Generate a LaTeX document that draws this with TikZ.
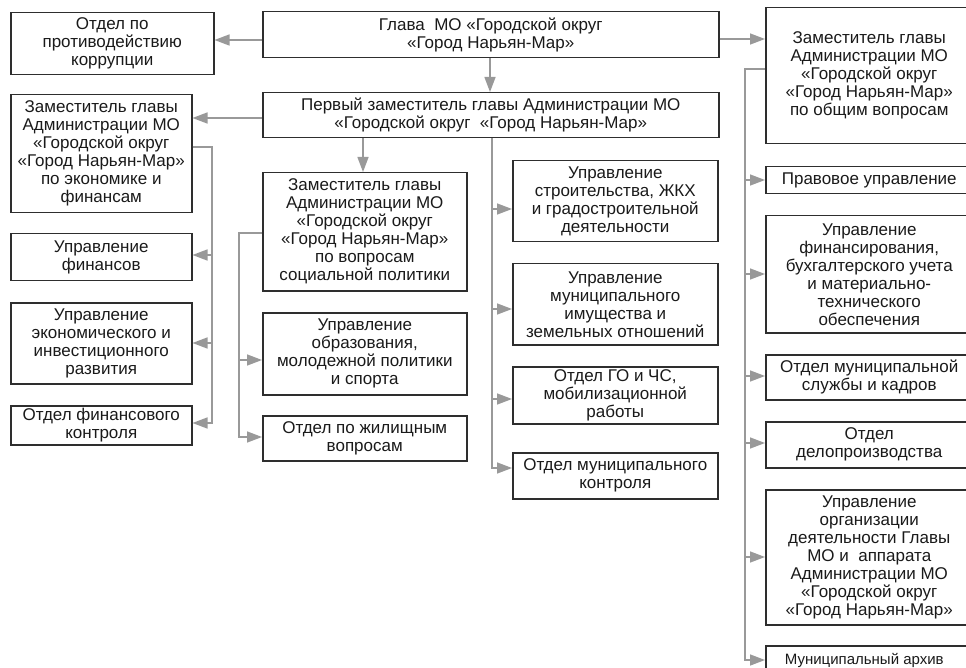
\documentclass[tikz,border=0pt]{standalone}
\usepackage{fontspec}
\setmainfont{Liberation Sans}
\usetikzlibrary{arrows.meta}
\definecolor{lncol}{HTML}{999999}
\definecolor{bdcol}{HTML}{2E2E2E}
\definecolor{txcol}{HTML}{1A1A1A}
\newcommand\orgbox[6]{\node[box, minimum width={(#4-#2)*1pt}, minimum height={(#5-#3)*1pt}] (#1) at (#2,#3) {#6};}
\begin{document}
\begin{tikzpicture}[x=1pt,y=-1pt,
  box/.style={draw=bdcol, line width=1.5pt, inner sep=0pt, align=center, anchor=north west, text=txcol, font=\fontsize{17}{18}\selectfont},
  conn/.style={draw=lncol, line width=1.4pt},
  arr/.style={conn, -{Triangle[length=15pt,width=11pt]}}]
\useasboundingbox (0,0) rectangle (966,668);
\clip (0,0) rectangle (966,668);
\fill[white] (0,0) rectangle (966,668);
% top
\orgbox{korr}{10}{12}{213}{74}{Отдел по\\противодействию\\коррупции}
\orgbox{glava}{262}{11}{718}{57}{Глава\ \ МО «Городской округ\\«Город Нарьян-Мар»}
\orgbox{obsh}{765}{7}{972}{143}{Заместитель главы\\Администрации МО\\«Городской округ\\«Город Нарьян-Мар»\\по общим вопросам}
\orgbox{perv}{262}{92}{718}{137}{Первый заместитель главы Администрации МО\\«Городской округ\ \ «Город Нарьян-Мар»}
% left column
\orgbox{econ}{10}{94}{191}{212}{Заместитель главы\\Администрации МО\\«Городской округ\\«Город Нарьян-Мар»\\по экономике и\\финансам}
\orgbox{fin}{10}{233}{191}{280}{Управление\\финансов}
\orgbox{ekon}{10}{302}{191}{383}{Управление\\экономического и\\инвестиционного\\развития}
\orgbox{fkont}{10}{405}{191}{444}{Отдел финансового\\контроля}
% social column
\orgbox{soc}{262}{172}{466}{290}{Заместитель главы\\Администрации МО\\«Городской округ\\«Город Нарьян-Мар»\\по вопросам\\социальной политики}
\orgbox{obr}{262}{312}{466}{394}{Управление\\образования,\\молодежной политики\\и спорта}
\orgbox{zhil}{262}{415}{466}{460}{Отдел по жилищным\\вопросам}
% middle column
\orgbox{stroi}{512}{160}{717}{241}{Управление\\строительства, ЖКХ\\и градостроительной\\деятельности}
\orgbox{imush}{512}{263}{717}{344}{Управление\\муниципального\\имущества и\\земельных отношений}
\orgbox{goch}{512}{366}{717}{423}{Отдел ГО и ЧС,\\мобилизационной\\работы}
\orgbox{mkont}{512}{452}{717}{498}{Отдел муниципального\\контроля}
% right column
\orgbox{prav}{765}{166}{972}{193}{Правовое управление}
\orgbox{finob}{765}{215}{972}{332}{Управление\\финансирования,\\бухгалтерского учета\\и материально-\\технического\\обеспечения}
\orgbox{kadr}{765}{354}{972}{399}{Отдел муниципальной\\службы и кадров}
\orgbox{delo}{765}{421}{972}{467}{Отдел\\делопроизводства}
\orgbox{orgd}{765}{489}{972}{624}{Управление\\организации\\деятельности Главы\\МО и\ \ аппарата\\Администрации МО\\«Городской округ\\«Город Нарьян-Мар»}
\node[box, minimum width=207pt, minimum height=29pt, font=\fontsize{15}{17}\selectfont] (arh) at (765,645) {\hspace*{-10pt}Муниципальный архив};
% spine coordinates
\coordinate (eTop) at (212,147);
\coordinate (eBot) at (212,423);
\coordinate (sTop) at (239,233);
\coordinate (sBot) at (239,437);
\coordinate (mBot) at (492,468);
\coordinate (rTop) at (745,69);
\coordinate (rBot) at (745,660);
% connectors from Glava
\draw[arr] (glava.west |- 0,40) -- (korr.east |- 0,40);
\draw[arr] (glava.east |- 0,39) -- (obsh.west |- 0,39);
\draw[arr] (glava.south -| 490,0) -- (perv.north -| 490,0);
% first deputy
\draw[arr] (perv.west |- 0,118) -- (econ.east |- 0,118);
\draw[arr] (perv.south -| 363,0) -- (soc.north -| 363,0);
\draw[arr] (perv.south -| mBot) -- (mBot) -- (mkont.west |- mBot);
\draw[arr] (mBot |- 0,209) -- (stroi.west |- 0,209);
\draw[arr] (mBot |- 0,309) -- (imush.west |- 0,309);
\draw[arr] (mBot |- 0,399) -- (goch.west |- 0,399);
% economics deputy
\draw[arr] (econ.east |- eTop) -- (eTop) -- (eBot) -- (fkont.east |- eBot);
\draw[arr] (eTop |- 0,255) -- (fin.east |- 0,255);
\draw[arr] (eTop |- 0,343) -- (ekon.east |- 0,343);
% social deputy
\draw[arr] (soc.west |- sTop) -- (sTop) -- (sBot) -- (zhil.west |- sBot);
\draw[arr] (sTop |- 0,360) -- (obr.west |- 0,360);
% general deputy
\draw[arr] (obsh.west |- rTop) -- (rTop) -- (rBot) -- (arh.west |- rBot);
\draw[arr] (rTop |- 0,180) -- (prav.west |- 0,180);
\draw[arr] (rTop |- 0,274) -- (finob.west |- 0,274);
\draw[arr] (rTop |- 0,376) -- (kadr.west |- 0,376);
\draw[arr] (rTop |- 0,443) -- (delo.west |- 0,443);
\draw[arr] (rTop |- 0,557) -- (orgd.west |- 0,557);
\end{tikzpicture}
\end{document}
